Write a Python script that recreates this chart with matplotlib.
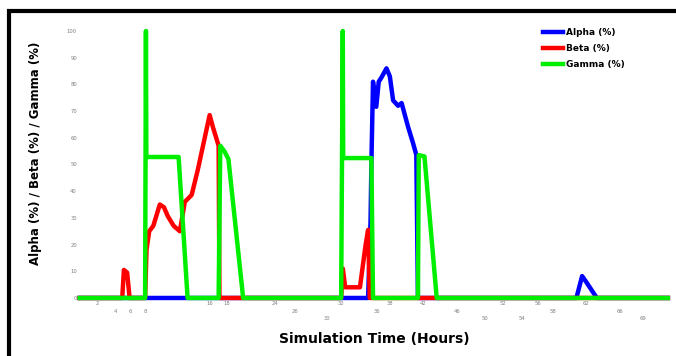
import matplotlib.pyplot as plt
from matplotlib.patches import Rectangle

# simulation time (hours) and values (%)
alpha_t = [0, 35.3, 35.6, 35.7, 35.9, 36.3, 36.6, 36.9, 37.55, 37.96, 38.36, 38.97,
           39.4, 39.8, 40.2, 40.8, 41.2, 41.4, 60.8, 61.5, 62.0, 63.3, 72]
alpha_v = [0, 0, 29, 50, 81, 71.6, 81, 82.4, 86, 83, 74, 72,
           73, 68.5, 64, 58, 53.6, 0, 0, 8.2, 6, 0, 0]

beta_t = [0, 5.2, 5.4, 5.8, 6.1, 8.0, 8.17, 8.5, 9.0, 9.8, 10.3, 10.8, 11.5, 12.25,
          12.86, 13.7, 14.45, 15.3, 15.9, 16.3, 17.0, 17.1, 32.0, 32.2, 32.5, 34.3,
          35.0, 35.3, 35.5, 72]
beta_v = [0, 0, 10.5, 9.5, 0, 0, 18, 25, 27, 35, 34, 30.5, 27, 25,
          36, 38.6, 48, 60, 68.5, 64, 57, 0, 0, 11, 4, 4,
          20, 25.5, 0, 0]

gamma_t = [0, 8.0, 8.1, 8.15, 12.1, 13.2, 17.0, 17.2, 17.7, 18.2, 20.0,
           32.0, 32.2, 32.25, 35.7, 35.9, 41.4, 41.5, 42.2, 43.7, 72]
gamma_v = [0, 0, 100, 52.8, 52.8, 0, 0, 57, 55, 52, 0,
           0, 100, 52.4, 52.4, 0, 0, 53.5, 53, 0, 0]

y_ticks = [0, 10, 20, 30, 40, 50, 60, 70, 80, 90, 100]
x_ticks = [2.1, 4.4, 6.2, 8.0, 15.9, 18.0, 23.9, 26.3, 30.2, 32.0, 36.4, 38.0, 42.0,
           46.2, 49.6, 51.8, 54.1, 56.1, 57.9, 62.0, 66.1, 69.0]
x_rows = [0, 1, 1, 1, 0, 0, 0, 1, 2, 0, 1, 0, 0,
          1, 2, 0, 2, 0, 1, 0, 1, 2]

fig = plt.figure(figsize=(6.76, 3.56), dpi=100)
ax = fig.add_axes([0.118, 0.163, 0.870, 0.75])

ax.plot(alpha_t, alpha_v, color="#0000ff", lw=3.2, label="Alpha (%)", clip_on=False)
ax.plot(beta_t, beta_v, color="#ff0000", lw=3.2, label="Beta (%)", clip_on=False)
ax.plot(gamma_t, gamma_v, color="#00ee00", lw=3.2, label="Gamma (%)", clip_on=False)

ax.set_xlim(0, 72)
ax.set_ylim(0, 100)
for s in ax.spines.values():
    s.set_visible(False)

ax.set_yticks(y_ticks)
ax.set_yticklabels([str(v) for v in y_ticks], fontsize=3.8, color="#808080")
ax.set_xticks(x_ticks)
ax.set_xticklabels(["\n" * r + str(int(round(t))) for t, r in zip(x_ticks, x_rows)],
                   fontsize=3.8, color="#808080", linespacing=1.7)
ax.tick_params(length=0, pad=2)

ax.set_xlabel("Simulation Time (Hours)", fontsize=10, fontweight="bold", labelpad=8)
ax.set_ylabel("Alpha (%) / Beta (%) / Gamma (%)", fontsize=8.5, fontweight="bold")
ax.yaxis.set_label_coords(-0.065, 0.54)

leg = ax.legend(loc="upper right", bbox_to_anchor=(0.94, 1.04), frameon=False,
                fontsize=6.5, handlelength=2.2, handletextpad=0.3, labelspacing=0.75)
for t in leg.get_texts():
    t.set_fontweight("bold")

# thick outer frame (left and top edges visible)
fig.patches.append(Rectangle((9 / 676, -0.2), 1.2, 1.2 - 11 / 356,
                             transform=fig.transFigure, fill=False, lw=3, color="black"))

fig.savefig("out.png", dpi=100)
